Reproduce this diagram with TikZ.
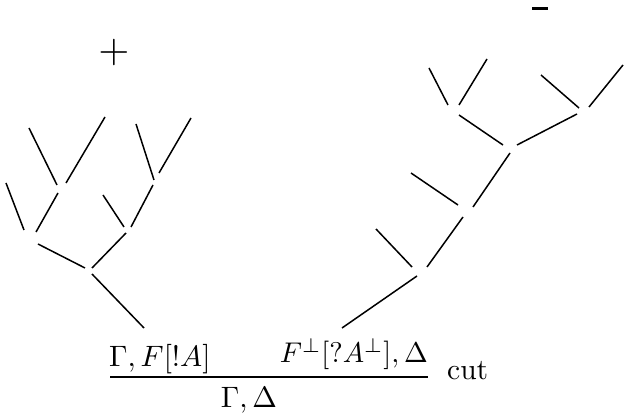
\documentclass[tikz,border=0pt]{standalone}
\usepackage{graphicx}
\newcommand{\bigtext}[1]{\scalebox{2.95}{#1}}
\begin{document}
\begin{tikzpicture}[x=1pt,y=-1pt,
  branch/.style={line width=1.5pt},
  formula/.style={inner sep=0pt},
  rulebar/.style={line width=1.1pt}]
\useasboundingbox (0,0) rectangle (624,419);
% signs
\node[inner sep=0pt] (plus) at (114,53) {\scalebox{4}{$+$}};
\draw[line width=3pt] (532,9) coordinate (m1) -- (548,9) coordinate (m2);
% left tree
\foreach \a/\b/\c/\d [count=\i] in {
  29/128/57/185, 105/117/66/183, 136/124/154/180, 191/118/159/173,
  6/183/24/230, 58/193/36/232, 103/195/124/227, 153/185/131/227,
  38/244/85/268, 126/233/92/268, 92/274/144/328}{
  \coordinate (L\i a) at (\a,\b);
  \coordinate (L\i b) at (\c,\d);
  \draw[branch] (L\i a) -- (L\i b);
}
% right tree
\foreach \a/\b/\c/\d [count=\i] in {
  429/68/448/105, 487/59/459/105, 541/75/579/108, 623/65/589/107,
  459/115/503/145, 577/114/517/145, 510/153/473/207, 411/173/458/205,
  463/217/427/267, 376/229/412/267, 417/276/342/328}{
  \coordinate (R\i a) at (\a,\b);
  \coordinate (R\i b) at (\c,\d);
  \draw[branch] (R\i a) -- (R\i b);
}
% cut rule
\node[formula,anchor=base west] (prl) at (109,367) {\bigtext{$\Gamma, F[!A]$}};
\node[formula,anchor=base east] (prr) at (428,363) {\scalebox{2.85}{$F^\perp[?A^\perp], \Delta$}};
\coordinate (bl) at (110,377);
\coordinate (br) at (428,377);
\draw[rulebar] (bl) -- (br);
\node[formula,anchor=base] (concl) at (249,408) {\bigtext{$\Gamma, \Delta$}};
\node[formula,anchor=base west] (cut) at (447,380) {\bigtext{cut}};
\end{tikzpicture}
\end{document}
